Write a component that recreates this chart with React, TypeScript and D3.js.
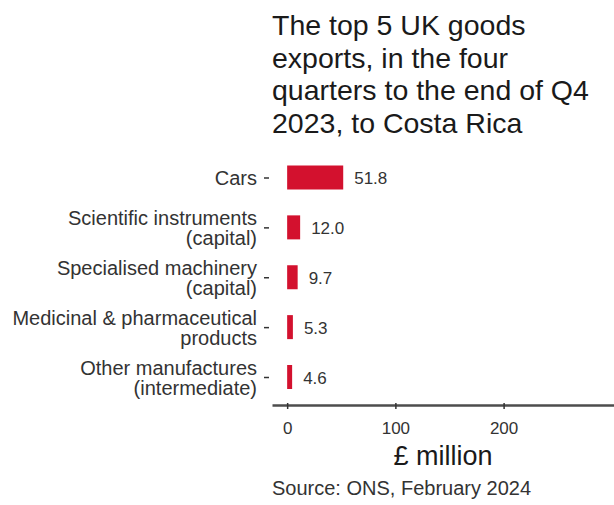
import React, { useEffect, useRef } from 'react';
import * as d3 from 'd3';

const categories = [
  'Cars',
  'Scientific instruments\n(capital)',
  'Specialised machinery\n(capital)',
  'Medicinal & pharmaceutical\nproducts',
  'Other manufactures\n(intermediate)',
];
const values = [51.8, 12.0, 9.7, 5.3, 4.6];
const xTicks = [0, 100, 200];
const titleLines = [
  'The top 5 UK goods',
  'exports, in the four',
  'quarters to the end of Q4',
  '2023, to Costa Rica',
];
const axisTitle = '£ million';
const source = 'Source: ONS, February 2024';

const W = 614;
const H = 505;
const FONT = '"Liberation Sans", Arial, sans-serif';
const BAR = '#d3112e';

const App: React.FC = () => {
  const ref = useRef<SVGSVGElement | null>(null);

  useEffect(() => {
    if (!ref.current) return;
    const svg = d3.select(ref.current);
    svg.selectAll('*').remove();

    const x = d3.scaleLinear().domain([-14, 302]).range([272, 614]);
    const y = d3.scalePoint<string>().domain(categories).range([177.5, 377]);
    const barH = 24;

    // title
    svg.append('g')
      .selectAll('text')
      .data(titleLines)
      .join('text')
      .attr('x', 272)
      .attr('y', (_, i) => 35 + i * 32.7)
      .attr('font-family', FONT)
      .attr('font-size', 28.5)
      .attr('fill', '#1a1a1a')
      .text(d => d);

    // bars
    svg.append('g')
      .selectAll('rect')
      .data(values)
      .join('rect')
      .attr('x', x(0))
      .attr('y', (_, i) => (y(categories[i]) as number) - barH / 2)
      .attr('width', d => x(d) - x(0))
      .attr('height', barH)
      .attr('fill', BAR);

    // value labels
    svg.append('g')
      .selectAll('text')
      .data(values)
      .join('text')
      .attr('x', d => x(d) + 11)
      .attr('y', (_, i) => (y(categories[i]) as number) + 6.5)
      .attr('font-family', FONT)
      .attr('font-size', 17)
      .attr('fill', '#333')
      .text(d => d.toFixed(1));

    // y axis
    const yAxis = svg.append('g')
      .attr('transform', 'translate(269,0)')
      .call(d3.axisLeft(y).tickSize(5).tickPadding(7).tickFormat(() => ''));
    yAxis.select('.domain').remove();
    yAxis.selectAll('.tick line').attr('stroke', '#333').attr('stroke-width', 1.5);
    yAxis.selectAll<SVGGElement, string>('.tick').each(function (d) {
      const lines = d.split('\n');
      const t = d3.select(this).select('text')
        .attr('font-family', FONT)
        .attr('font-size', 20)
        .attr('fill', '#333')
        .attr('x', -12)
        .attr('dy', null)
        .attr('text-anchor', 'end');
      const y0 = lines.length === 1 ? 7 : -3;
      lines.forEach((ln, i) => {
        t.append('tspan').attr('x', -12).attr('y', y0 + i * 20).text(ln);
      });
    });

    // x axis
    const xAxis = svg.append('g')
      .attr('transform', 'translate(0,405)')
      .call(d3.axisBottom(x).tickValues(xTicks).tickSize(4).tickPadding(13).tickSizeOuter(0));
    xAxis.select('.domain').attr('stroke', '#4d4d4d').attr('stroke-width', 2.5);
    xAxis.selectAll('.tick line').attr('stroke', '#333').attr('stroke-width', 1.5).attr('y1', -2);
    xAxis.selectAll('.tick text')
      .attr('font-family', FONT)
      .attr('font-size', 17)
      .attr('fill', '#333');

    svg.append('text')
      .attr('x', (272 + 614) / 2)
      .attr('y', 465)
      .attr('text-anchor', 'middle')
      .attr('font-family', FONT)
      .attr('font-size', 27)
      .attr('fill', '#1a1a1a')
      .text(axisTitle);

    svg.append('text')
      .attr('x', 272)
      .attr('y', 495)
      .attr('font-family', FONT)
      .attr('font-size', 20)
      .attr('fill', '#333')
      .text(source);
  }, []);

  return (
    <svg
      ref={ref}
      width={W}
      height={H}
      style={{ position: 'absolute', left: 0, top: 0, background: '#fff' }}
    />
  );
};

export default App;
